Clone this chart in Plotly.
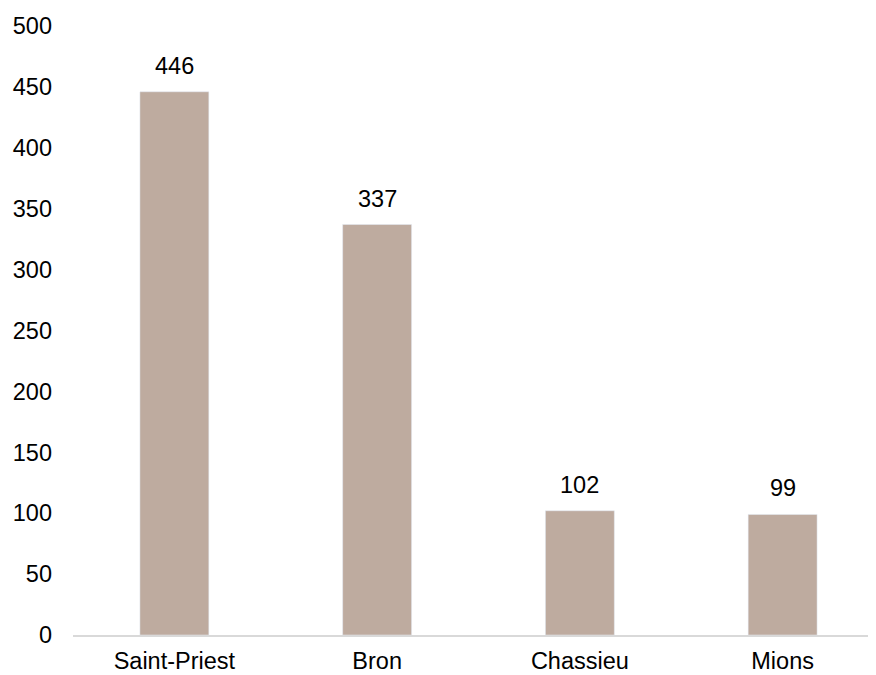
import plotly.graph_objects as go

communes = ['Saint-Priest', 'Bron', 'Chassieu', 'Mions']
valeurs = [446, 337, 102, 99]
y_ticks = [0, 50, 100, 150, 200, 250, 300, 350, 400, 450, 500]

BAR_COLOR = '#BEAB9F'
FONT = 'Liberation Sans, Arial, sans-serif'

fig = go.Figure(go.Bar(
    x=communes, y=valeurs,
    marker_color=BAR_COLOR, width=0.34,
    hoverinfo='skip',
))

for c, v in zip(communes, valeurs):
    fig.add_annotation(x=c, y=v, text=str(v), showarrow=False,
                       yanchor='bottom', yshift=11,
                       font=dict(family=FONT, size=23.5, color='#000000'))

fig.update_layout(
    width=876, height=675,
    margin=dict(l=65, r=0, t=18, b=48),
    plot_bgcolor='white', paper_bgcolor='white',
    font=dict(family=FONT, size=23.5, color='#000000'),
    showlegend=False,
)
fig.update_xaxes(showline=True, linecolor='#D9D9D9', linewidth=1.5,
                 showgrid=False, ticks='', ticklabelstandoff=4)
fig.update_yaxes(range=[0, 500], tickvals=y_ticks, showgrid=False,
                 zeroline=False, showline=False, ticklabelstandoff=20)

fig.write_html("out.html")
